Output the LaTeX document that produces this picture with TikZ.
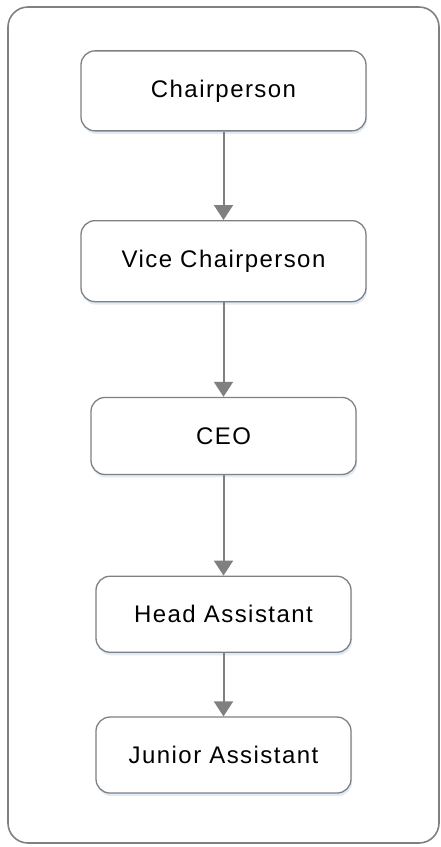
\documentclass[tikz,border=0pt]{standalone}
\usepackage{fontspec}
\setmainfont{Liberation Sans}[LetterSpace=6]
\usetikzlibrary{matrix, arrows.meta, shadows}
\definecolor{framegray}{HTML}{808080}
\definecolor{shadowblue}{HTML}{C9DDF2}

\begin{document}
\begin{tikzpicture}[x=1pt, y=-1pt,
  frame/.style = {draw=framegray, line width=1.6pt, rounded corners=20pt},
  role/.style = {draw=framegray, line width=1.3pt, rounded corners=14pt, fill=white,
                 inner sep=2pt, font=\fontsize{24}{28}\selectfont,
                 drop shadow={shadow xshift=1pt, shadow yshift=-3pt, fill=shadowblue, opacity=.6}},
  link/.style = {draw=framegray, line width=2pt, -{Triangle[width=19pt, length=15pt]}}]
\useasboundingbox (0,0) rectangle (441,847);
\draw [frame] (8,7) rectangle (439,843);
\matrix (m) [matrix of nodes, inner sep = 0pt, row sep = 63.5pt, nodes = {role}, anchor = north] at (223.5,50) {
|[minimum width=285pt, minimum height=80pt] (chair)| Chairperson \\[25pt]
|[minimum width=285pt, minimum height=81pt] (vice)| Vice Chairperson \\[31pt]
|[minimum width=265pt, minimum height=77pt] (ceo)| CEO \\[37pt]
|[minimum width=255pt, minimum height=76pt] (head)| Head Assistant \\
|[minimum width=255pt, minimum height=76pt] (junior)| Junior Assistant \\
};
\draw [link] (chair) -- (vice);
\draw [link] (vice) -- (ceo);
\draw [link] (ceo) -- (head);
\draw [link] (head) -- (junior);
\end{tikzpicture}
\end{document}
